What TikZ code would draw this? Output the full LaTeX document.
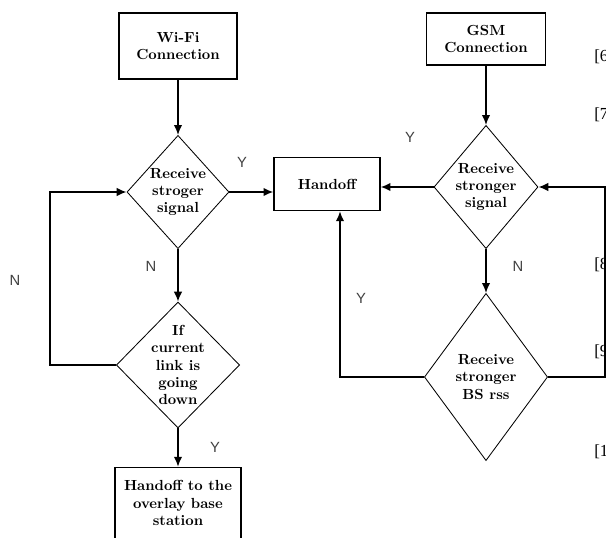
\documentclass[tikz,border=0pt]{standalone}
\usepackage{fontspec}
\newfontfamily\yn{Liberation Sans}
\newfontfamily\refs{Liberation Serif}
\usetikzlibrary{shapes.geometric,arrows.meta}
\begin{document}
\begin{tikzpicture}[x=0.025cm, y=-0.025cm, >={Latex[length=7pt,width=6pt]},
    box/.style={draw, line width=0.9pt, align=center, inner sep=0pt,
      font=\bfseries\fontsize{10.4}{12.4}\selectfont},
    dia/.style={draw, diamond, line width=0.6pt, align=center, inner sep=-0.5cm,
      font=\bfseries\fontsize{10.4}{12.4}\selectfont},
    yn/.style={text=black!75, font=\yn\fontsize{10.5}{12}\selectfont},
    refno/.style={anchor=west, inner sep=0pt, font=\refs\fontsize{12}{14}\selectfont},
    conn/.style={line width=1.1pt}]
        \useasboundingbox (0,0) rectangle (606,538);
        \node[box, minimum width=2.95cm, minimum height=1.65cm] (wifi) at (178,46) {Wi-Fi\\Connection};
        \node[dia, minimum width=2.55cm, minimum height=2.83cm] (d1) at (178,192) {Receive\\stroger\\signal};
        \node[dia, minimum width=3.08cm, minimum height=3.15cm] (d2) at (178,365) {If\\current\\link is\\going\\down};
        \node[box, minimum width=3.15cm, minimum height=1.78cm] (fin) at (178,503) {Handoff to the\\overlay base\\station};
        \node[box, minimum width=2.65cm, minimum height=1.33cm] (hand) at (327,184) {Handoff};
        \node[box, minimum width=2.98cm, minimum height=1.3cm] (gsm) at (486,39) {GSM\\Connection};
        \node[dia, minimum width=2.6cm, minimum height=3.08cm] (d3) at (486,187) {Receive\\stronger\\signal};
        \node[dia, minimum width=3.08cm, minimum height=4.18cm] (d4) at (486,377) {Receive\\stronger\\BS rss};
        \coordinate (lb) at (50,365);
        \coordinate (rb) at (605,377);
        \draw[conn,->] (wifi) -- (d1);
        \draw[conn,->] (d1) -- (d2);
        \draw[conn,->] (d2) -- (fin);
        \draw[conn,->] (d1.east) -- (d1.east -| hand.west);
        \draw[conn,->] (d2.west) -- (lb) |- (d1.west);
        \draw[conn,->] (gsm) -- (d3);
        \draw[conn,->] (d3.west) -- (d3.west -| hand.east);
        \draw[conn,->] (d3) -- (d4);
        \draw[conn,->] (d4.west) -| ([xshift=0.325cm]hand.south);
        \draw[conn,->] (d4.east) -- (rb) |- (d3.east);
        \node[yn] (y1) at (242,162) {Y};
        \node[yn] (n1) at (151,266) {N};
        \node[yn] (n2) at (15,280) {N};
        \node[yn] (y2) at (215,447) {Y};
        \node[yn] (y3) at (410,137) {Y};
        \node[yn] (n3) at (518,266) {N};
        \node[yn] (y4) at (361,298) {Y};
        \node[refno] (r6) at (594,57) {[6};
        \node[refno] (r7) at (594,115) {[7};
        \node[refno] (r8) at (594,265) {[8};
        \node[refno] (r9) at (594,352) {[9};
        \node[refno] (r10) at (594,452) {[1};
      \end{tikzpicture}
\end{document}
